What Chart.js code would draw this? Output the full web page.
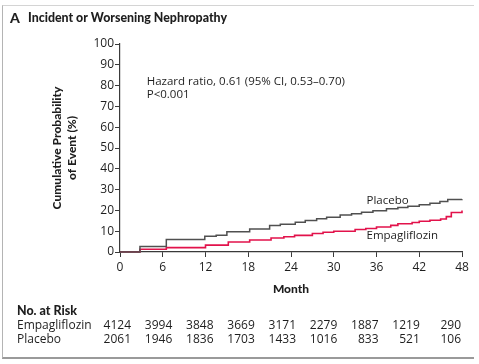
<!DOCTYPE html>
<html>
<head>
<meta charset="utf-8">
<script src="https://cdn.jsdelivr.net/npm/chart.js@4.4.0/dist/chart.umd.min.js"></script>
<style>
html, body { margin: 0; padding: 0; background: #fff; }
#wrap { position: relative; width: 479px; height: 364px; }
#frame { position: absolute; left: 2px; top: 5px; width: 471px; height: 351px;
  border-top: 1px solid #d4d4d4; border-left: 1px solid #b4b4b4; border-bottom: 2px solid #9a9a9a; }
canvas { position: absolute; left: 0; top: 0; }
</style>
</head>
<body>
<div id="wrap">
  <div id="frame"></div>
  <canvas id="km" width="479" height="364"></canvas>
</div>
<script>
// Kaplan-Meier style cumulative incidence
var placeboMonths = [0, 2.8, 6.5, 11.9, 13.5, 15.0, 18.2, 21.0, 22.5, 24.6, 26.0, 27.6, 29.0, 30.9, 32.5, 33.9, 35.5, 37.4, 39.0, 40.4, 42.0, 43.5, 44.9, 46.0, 48];
var placeboRisk   = [0, 2.6, 6.0, 7.6,  8.0,  9.7,  11.1, 12.8, 13.4, 14.3, 15.1, 16.0, 16.7, 17.8, 18.4, 19.1, 19.8, 20.8, 21.4, 22.0, 22.7, 23.4, 24.3, 25.2, 25.4];

var empaMonths = [0, 2.8, 6.5, 12.0, 15.2, 18.2, 21.2, 23.0, 24.5, 27.0, 28.5, 30.0, 33.0, 34.5, 36.0, 38.0, 39.0, 41.0, 42.0, 43.5, 45.0, 45.8, 46.5, 48];
var empaRisk   = [0, 1.3, 2.1, 3.3,  4.8,  5.8,  6.7,  7.3,  8.0,  8.9,  9.5,  10.0, 10.8, 11.3, 12.0, 12.8, 13.6, 14.2, 14.8, 15.3, 15.9, 17.0, 19.0, 20.0];

var atRiskEmpa    = [4124, 3994, 3848, 3669, 3171, 2279, 1887, 1219, 290];
var atRiskPlacebo = [2061, 1946, 1836, 1703, 1433, 1016, 833, 521, 106];

var FONT = '"Open Sans", sans-serif';
var BOLD = 'Lato, "Open Sans", sans-serif';
var INK = '#1e1e1e';
var AXIS = '#3a3a3a';

function toPoints(xs, ys) {
    var pts = [];
    for (var i = 0; i < xs.length; i++) {
        pts.push({ x: xs[i], y: ys[i] });
    }
    return pts;
}

var textPlugin = {
    id: 'kmText',
    afterDraw: function (chart) {
        var ctx = chart.ctx;
        var xs = chart.scales.x, ys = chart.scales.y;
        ctx.save();
        ctx.fillStyle = INK;
        ctx.textBaseline = 'middle';
        ctx.textAlign = 'left';

        ctx.font = '900 14px ' + BOLD;
        ctx.fillText('A', 10, 18);
        ctx.font = '900 12.5px ' + BOLD;
        ctx.fillText('Incident or Worsening Nephropathy', 28, 18, 199);

        ctx.font = '11.5px ' + FONT;
        ctx.fillText('Hazard ratio, 0.61 (95% CI, 0.53\u20130.70)', xs.getPixelForValue(3.75), ys.getPixelForValue(82));
        ctx.fillText('P<0.001', xs.getPixelForValue(3.75), ys.getPixelForValue(75.8));
        ctx.fillText('Placebo', xs.getPixelForValue(34.6), ys.getPixelForValue(24.5));
        ctx.fillText('Empagliflozin', xs.getPixelForValue(34.6), ys.getPixelForValue(8));

        // number at risk table
        ctx.font = '900 12.5px ' + BOLD;
        ctx.fillText('No. at Risk', 17, 311, 60);
        ctx.font = '12px ' + FONT;
        ctx.fillText('Empagliflozin', 17, 326);
        ctx.fillText('Placebo', 17, 340);

        ctx.textAlign = 'right';
        var x0 = xs.getPixelForValue(0) + 11;
        var x1 = xs.getPixelForValue(48) - 1;
        var n = atRiskEmpa.length;
        for (var i = 0; i < n; i++) {
            var cx = x0 + (x1 - x0) * i / (n - 1);
            ctx.fillText(String(atRiskEmpa[i]), cx, 326);
            ctx.fillText(String(atRiskPlacebo[i]), cx, 340);
        }
        ctx.restore();
    }
};

Chart.defaults.font.family = FONT;
Chart.defaults.color = INK;

new Chart(document.getElementById('km'), {
    type: 'line',
    data: {
        datasets: [
            {
                label: 'Placebo',
                data: toPoints(placeboMonths, placeboRisk),
                borderColor: '#505050',
                borderWidth: 1.5,
                pointRadius: 0,
                stepped: 'before',
                fill: false,
                clip: 4
            },
            {
                label: 'Empagliflozin',
                data: toPoints(empaMonths, empaRisk),
                borderColor: '#e2124b',
                borderWidth: 1.6,
                pointRadius: 0,
                stepped: 'before',
                fill: false,
                clip: 4
            }
        ]
    },
    options: {
        responsive: false,
        animation: false,
        layout: { padding: { left: 0, top: 44, right: 17, bottom: 64 } },
        plugins: {
            legend: { display: false },
            tooltip: { enabled: false }
        },
        scales: {
            x: {
                type: 'linear',
                min: 0,
                max: 48,
                afterFit: function (s) { s.height = 48; },
                ticks: { stepSize: 6, padding: 3, font: { size: 12 }, color: INK, maxRotation: 0 },
                grid: { drawOnChartArea: false, drawTicks: true, tickLength: 5, tickColor: AXIS, tickWidth: 1 },
                border: { display: true, color: AXIS, width: 1.2 },
                title: { display: true, text: 'Month', font: { family: BOLD, size: 12, weight: '900', lineHeight: 1.2 }, color: INK, padding: { top: 0, bottom: 4 } }
            },
            y: {
                min: 0,
                max: 100,
                afterFit: function (s) { s.width = 120; },
                ticks: { stepSize: 10, padding: 1, font: { size: 12 }, color: INK },
                grid: { drawOnChartArea: false, drawTicks: true, tickLength: 5, tickColor: AXIS, tickWidth: 1 },
                border: { display: true, color: AXIS, width: 1.2 },
                title: { display: true, text: ['Cumulative Probability', 'of Event (%)'], font: { family: BOLD, size: 12, weight: '900', lineHeight: 1.25 }, color: INK, padding: { top: 50, bottom: 0 } }
            }
        }
    },
    plugins: [textPlugin]
});
</script>
</body>
</html>
